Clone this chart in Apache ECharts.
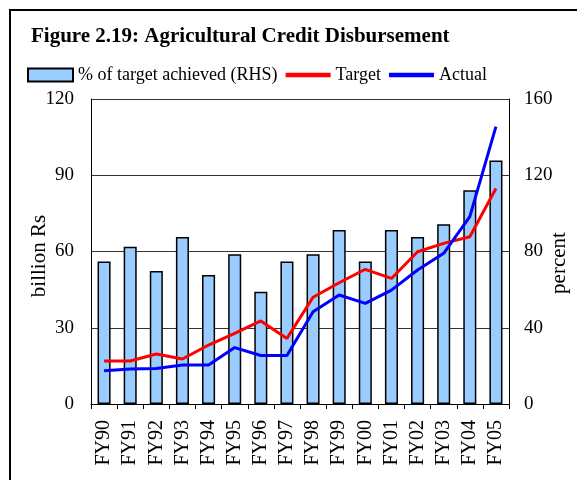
<!DOCTYPE html>
<html>
<head>
<meta charset="utf-8">
<script src="https://cdn.jsdelivr.net/npm/echarts@6/dist/echarts.min.js"></script>
<style>
  html, body { margin: 0; padding: 0; background: #fff; }
  #chart { width: 577px; height: 480px; }
</style>
</head>
<body>
<div id="chart"></div>
<script>
// fiscal years
const years = ['FY90', 'FY91', 'FY92', 'FY93', 'FY94', 'FY95', 'FY96', 'FY97',
  'FY98', 'FY99', 'FY00', 'FY01', 'FY02', 'FY03', 'FY04', 'FY05'];
// % of target achieved (RHS)
const achieved = [74.7, 82.5, 69.8, 87.6, 67.7, 78.5, 58.9, 74.7,
  78.5, 91.3, 74.7, 91.3, 87.6, 94.3, 112.1, 127.7];
// billion Rs
const target = [16.9, 16.9, 19.7, 17.7, 23.2, 27.8, 32.7, 25.8,
  42.0, 47.7, 53.0, 49.4, 59.9, 63.2, 65.8, 84.8];
const actual = [13.1, 13.8, 14.0, 15.3, 15.3, 22.2, 19.1, 19.1,
  36.3, 42.9, 39.6, 44.8, 52.7, 59.3, 73.7, 109.1];

const serif = '"Liberation Serif", "DejaVu Serif", serif';
const chart = echarts.init(document.getElementById('chart'));

// rotated axis titles, placed by hand like the original
const axisTitle = (text, x, y) => ({
  type: 'text', x: x, y: y, rotation: Math.PI / 2,
  style: {
    text: text, x: 0, y: 0, align: 'center', verticalAlign: 'middle',
    font: '21px ' + serif, fill: '#000'
  }
});

chart.setOption({
  animation: false,
  textStyle: { fontFamily: serif, color: '#000' },
  title: {
    text: 'Figure 2.19: Agricultural Credit Disbursement',
    left: 26, top: 21,
    textStyle: { fontFamily: serif, fontSize: 21, fontWeight: 'bold', color: '#000' }
  },
  legend: {
    left: 22, top: 61,
    itemGap: 8,
    itemWidth: 45, itemHeight: 13,
    textStyle: { fontFamily: serif, fontSize: 18, color: '#000' },
    data: [
      { name: '% of target achieved (RHS)', icon: 'rect' },
      { name: 'Target', icon: 'path://M0,0 L10,0 L10,1 L0,1 Z' },
      { name: 'Actual', icon: 'path://M0,0 L10,0 L10,1 L0,1 Z' }
    ]
  },
  graphic: [
    {
      type: 'rect',
      shape: { x: 10, y: 10, width: 600, height: 600 },
      style: { fill: 'none', stroke: '#000', lineWidth: 2 }
    },
    axisTitle('billion Rs', 39, 256),
    axisTitle('percent', 559, 263)
  ],
  grid: { left: 91, right: 68, top: 99, bottom: 76 },
  xAxis: {
    type: 'category',
    data: years,
    axisLine: { lineStyle: { color: '#000', width: 1 } },
    axisTick: { show: true, length: 5, lineStyle: { color: '#000' } },
    axisLabel: { rotate: 90, fontSize: 20, color: '#000', fontFamily: serif, margin: 16 }
  },
  yAxis: [{
    type: 'value', min: 0, max: 120, interval: 30,
    axisLine: { show: true, lineStyle: { color: '#000' } },
    axisTick: { show: false },
    axisLabel: { fontSize: 19, color: '#000', fontFamily: serif, margin: 17 },
    splitLine: { lineStyle: { color: '#333', width: 1 } }
  }, {
    type: 'value', min: 0, max: 160, interval: 40,
    axisLine: { show: true, lineStyle: { color: '#000' } },
    axisTick: { show: false },
    axisLabel: { fontSize: 19, color: '#000', fontFamily: serif, margin: 15 },
    splitLine: { show: false }
  }],
  series: [{
    name: '% of target achieved (RHS)',
    type: 'bar',
    yAxisIndex: 1,
    data: achieved,
    barWidth: '50%',
    itemStyle: { color: '#99CCFF', borderColor: '#000', borderWidth: 1.5 }
  }, {
    name: 'Target',
    type: 'line',
    data: target,
    symbol: 'none',
    lineStyle: { color: '#FF0000', width: 3 },
    itemStyle: { color: '#FF0000' }
  }, {
    name: 'Actual',
    type: 'line',
    data: actual,
    symbol: 'none',
    lineStyle: { color: '#0000FF', width: 3 },
    itemStyle: { color: '#0000FF' }
  }]
});
</script>
</body>
</html>
